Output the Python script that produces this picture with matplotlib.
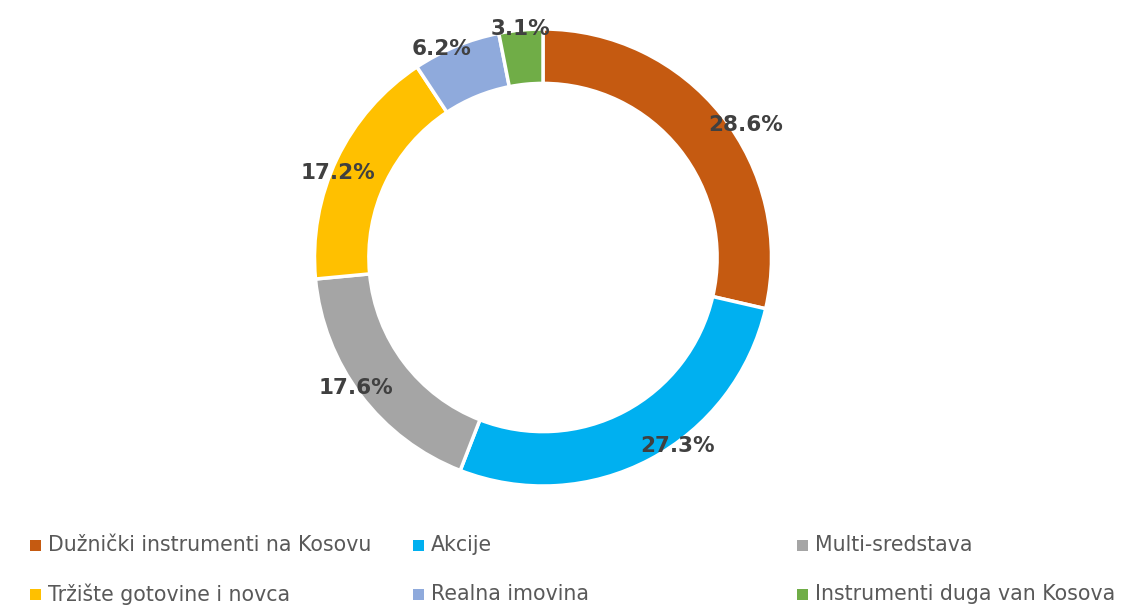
import numpy as np
import matplotlib.pyplot as plt
from matplotlib.patches import Rectangle

# data
categories = ['Dužnički instrumenti na Kosovu', 'Akcije', 'Multi-sredstava',
              'Tržište gotovine i novca', 'Realna imovina', 'Instrumenti duga van Kosova']
shares = [28.6, 27.3, 17.6, 17.2, 6.2, 3.1]
colors = ['#C55A11', '#00B0F0', '#A5A5A5', '#FFC000', '#8FAADC', '#70AD47']

W, H = 1123, 608
fig = plt.figure(figsize=(W / 100, H / 100), dpi=100)

# donut axes, placed in pixels
cx, cy, R = 543, 257.5, 228.5
ax = fig.add_axes([(cx - R) / W, (H - cy - R) / H, 2 * R / W, 2 * R / H])
wedges, texts, autotexts = ax.pie(
    shares, colors=colors, startangle=90, counterclock=False, radius=1.0,
    autopct='%.1f%%', pctdistance=1.0,
    wedgeprops=dict(width=0.238, edgecolor='white', linewidth=2.5),
    textprops=dict(color='#404040', fontsize=15.5, fontweight='bold'))

# nudge the labels (pixels) to sit where Excel put them
nudges = [(24, -10), (28, 13), (-5, 7), (1, -14), (-15, -3), (0, 1)]
for t, (dx, dy) in zip(autotexts, nudges):
    x, y = t.get_position()
    t.set_position((x + dx / R, y + dy / R))

ax.set_xlim(-1, 1)
ax.set_ylim(-1, 1)
ax.set_aspect('equal')
ax.axis('off')

# legend drawn by hand in a 3 column grid (row-major like the original)
col_x = [30, 413, 797]
row_y = [545, 594]
sq = 11
for i, (lab, col) in enumerate(zip(categories, colors)):
    x = col_x[i % 3]
    y = row_y[i // 3]
    fig.add_artist(Rectangle((x / W, (H - y - sq / 2) / H), sq / W, sq / H,
                             transform=fig.transFigure, facecolor=col, edgecolor='none'))
    fig.text((x + sq + 7) / W, (H - y) / H, lab, fontsize=14.8, color='#595959',
             va='center', ha='left')

fig.savefig('out.png', dpi=100)
